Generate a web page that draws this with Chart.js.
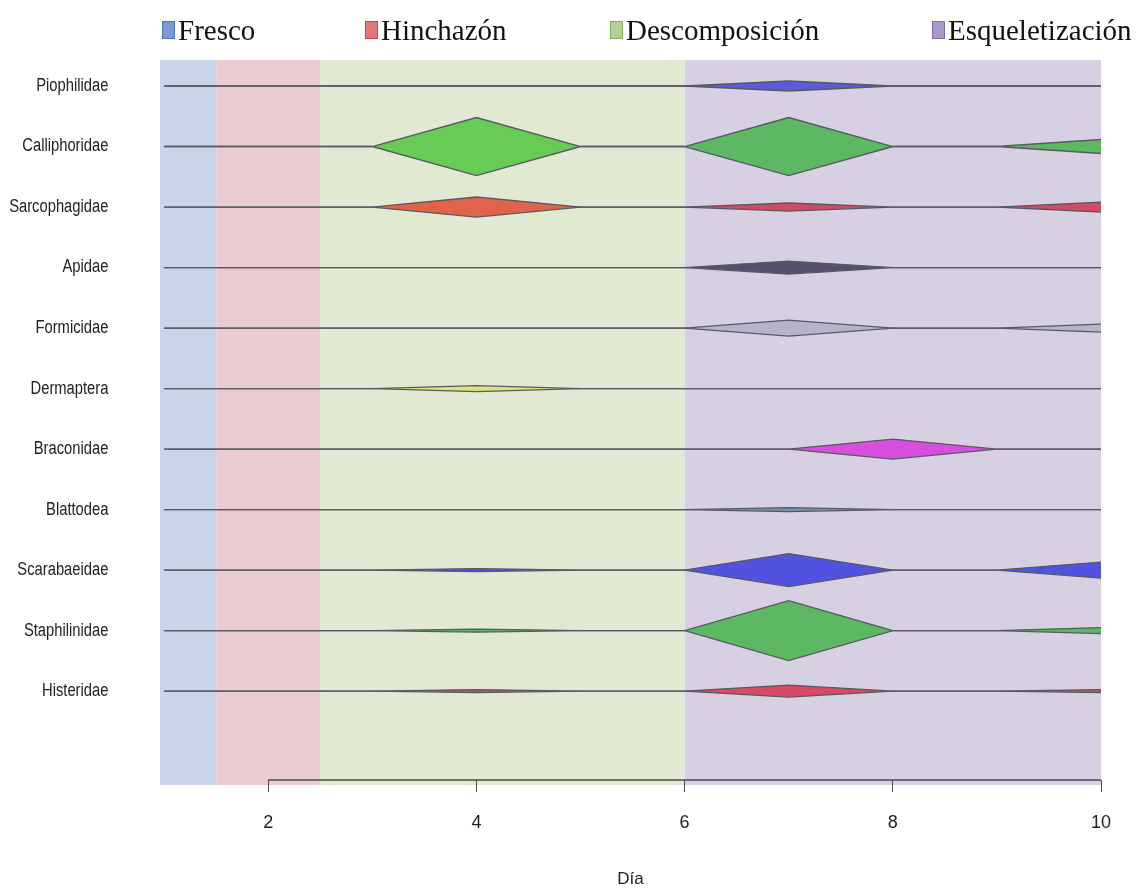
<!DOCTYPE html>
<html>
<head>
<meta charset="utf-8">
<script src="https://cdn.jsdelivr.net/npm/chart.js@4.4.1/dist/chart.umd.min.js"></script>
<style>
  html, body { margin: 0; padding: 0; background: #ffffff; }
  #wrap { position: relative; width: 1137px; height: 891px; }
  canvas { position: absolute; left: 0; top: 0; }
  .leg { position: absolute; top: 12px; height: 36px; display: flex; align-items: center;
         font-family: 'Liberation Serif', 'Times New Roman', serif; font-size: 29px; color: #111; white-space: nowrap; }
  .leg span.box { display: inline-block; width: 11px; height: 16px; margin-right: 3px; border: 1px solid; }
</style>
</head>
<body>
<div id="wrap">
  <canvas id="c" width="1137" height="891"></canvas>
  <div class="leg" style="left:162px"><span class="box" style="background:#7b9bd0;border-color:#4f72b0"></span>Fresco</div>
  <div class="leg" style="left:365px"><span class="box" style="background:#e07a7a;border-color:#c04a4a"></span>Hinchazón</div>
  <div class="leg" style="left:610px"><span class="box" style="background:#b3d195;border-color:#86ad62"></span>Descomposición</div>
  <div class="leg" style="left:932px"><span class="box" style="background:#a899c9;border-color:#7e6ca8"></span>Esqueletización</div>
</div>
<script>
// ---- data ----
const days = [1, 2, 3, 4, 5, 6, 7, 8, 9, 10];
const families = ['Piophilidae', 'Calliphoridae', 'Sarcophagidae', 'Apidae', 'Formicidae',
  'Dermaptera', 'Braconidae', 'Blattodea', 'Scarabaeidae', 'Staphilinidae', 'Histeridae'];
const piophilidae   = [0, 0, 0, 0,   0, 0, 5,    0,  0, 0];
const calliphoridae = [0, 0, 0, 29,  0, 0, 29,   0,  0, 7];
const sarcophagidae = [0, 0, 0, 10,  0, 0, 4,    0,  0, 5];
const apidae        = [0, 0, 0, 0,   0, 0, 6.5,  0,  0, 0];
const formicidae    = [0, 0, 0, 0,   0, 0, 8,    0,  0, 4];
const dermaptera    = [0, 0, 0, 3,   0, 0, 0,    0,  0, 0];
const braconidae    = [0, 0, 0, 0,   0, 0, 0,    10, 0, 0];
const blattodea     = [0, 0, 0, 0,   0, 0, 2,    0,  0, 0];
const scarabaeidae  = [0, 0, 0, 1.5, 0, 0, 16.5, 0,  0, 8];
const staphilinidae = [0, 0, 0, 1.5, 0, 0, 30,   0,  0, 3];
const histeridae    = [0, 0, 0, 1.5, 0, 0, 6,    0,  0, 1.5];
const seriesValues = [piophilidae, calliphoridae, sarcophagidae, apidae, formicidae,
  dermaptera, braconidae, blattodea, scarabaeidae, staphilinidae, histeridae];
const phaseNames = ['Fresco', 'Hinchazón', 'Descomposición', 'Esqueletización'];
const phaseBreaks = [0.96, 1.5, 2.5, 6, 10];
const xTickValues = [2, 4, 6, 8, 10];

// ---- styles ----
const phaseColors = ['#c9d4e9', '#eacbcf', '#e1e9d2', '#d6d0e2'];
const fillEarly = ['#5b5bdc', '#66cc55', '#e2634c', '#56506c', '#b8b3cb', '#dde27f', '#d84fe0', '#7894a8', '#5252e0', '#5cb862', '#d84a62'];
const fillLate  = ['#5b5bdc', '#5cb862', '#d44a62', '#56506c', '#b8b3cb', '#dde27f', '#d84fe0', '#7894a8', '#5252e0', '#5cb862', '#d84a62'];
const KITE_UNIT = 1 / 60.5;   // one abundance unit in row units
const lineCol = '#585a62';
const sans = "'Liberation Sans', Arial, sans-serif";

const datasets = [];
seriesValues.forEach((vals, i) => {
  datasets.push({
    label: families[i] + ' +',
    data: days.map((d, k) => ({ x: d, y: i - vals[k] * KITE_UNIT })),
    borderColor: lineCol, borderWidth: 1.3, pointRadius: 0, tension: 0, fill: false
  });
  datasets.push({
    label: families[i] + ' -',
    data: days.map((d, k) => ({ x: d, y: i + vals[k] * KITE_UNIT })),
    borderColor: lineCol, borderWidth: 1.3, pointRadius: 0, tension: 0,
    fill: '-1', backgroundColor: fillLate[i],
    segment: { backgroundColor: ctx => (ctx.p0.parsed.x < 6 ? fillEarly[i] : fillLate[i]) }
  });
});

// draw a scale's labels horizontally condensed (narrow face like the original)
function condense(scale, factor, anchorFn) {
  scale._computeLabelArea = () => undefined;
  if (scale._condensed) return;
  const orig = scale.drawLabels.bind(scale);
  scale.drawLabels = function (area) {
    const ctx = this.ctx;
    ctx.save();
    const ax = anchorFn(this);
    ctx.translate(ax, 0); ctx.scale(factor, 1); ctx.translate(-ax, 0);
    orig(area);
    ctx.restore();
  };
  scale._condensed = true;
}

const bgPlugin = {
  id: 'phases',
  beforeDraw(chart) {
    const { ctx, chartArea, scales } = chart;
    ctx.save();
    for (let p = 0; p < phaseNames.length; p++) {
      const x0 = scales.x.getPixelForValue(phaseBreaks[p]);
      const x1 = scales.x.getPixelForValue(phaseBreaks[p + 1]);
      ctx.fillStyle = phaseColors[p];
      ctx.fillRect(x0, chartArea.top, x1 - x0, chartArea.bottom - chartArea.top + 5);
    }
    ctx.restore();
  },
  afterDraw(chart) {
    const { ctx, chartArea, scales } = chart;
    ctx.save();
    ctx.strokeStyle = '#4a4a4a';
    ctx.lineWidth = 1.5;
    ctx.beginPath();
    ctx.moveTo(scales.x.getPixelForValue(xTickValues[0]), chartArea.bottom);
    ctx.lineTo(scales.x.getPixelForValue(xTickValues[xTickValues.length - 1]), chartArea.bottom);
    ctx.stroke();
    ctx.restore();
  }
};

new Chart(document.getElementById('c'), {
  type: 'line',
  data: { datasets },
  plugins: [bgPlugin],
  options: {
    responsive: false,
    animation: false,
    devicePixelRatio: 1,
    layout: { padding: { top: 60, right: 36, left: 0, bottom: 0 } },
    plugins: { legend: { display: false }, tooltip: { enabled: false } },
    scales: {
      x: {
        type: 'linear', min: phaseBreaks[0], max: phaseBreaks[phaseBreaks.length - 1],
        afterBuildTicks: s => { s.ticks = xTickValues.map(v => ({ value: v })); },
        afterFit: s => { s.height = 111; },
        border: { display: false },
        grid: { drawOnChartArea: false, drawTicks: true, tickLength: 12, color: '#4a4a4a', lineWidth: 1 },
        ticks: { padding: 20, color: '#222', font: { family: sans, size: 18 }, callback: v => String(v) },
        title: { display: true, text: 'Día', color: '#222', font: { family: sans, size: 17 }, padding: { top: 0, bottom: 1 } }
      },
      y: {
        type: 'linear', reverse: true, min: -0.43, max: 11.47,
        afterBuildTicks: s => { s.ticks = families.map((f, i) => ({ value: i })); },
        afterFit: s => { s.width = 160; condense(s, 0.82, sc => sc.right - 45); },
        border: { display: false },
        grid: { display: false },
        ticks: { padding: 45, color: '#222', font: { family: sans, size: 18 }, callback: v => families[v] }
      }
    }
  }
});
</script>
</body>
</html>
